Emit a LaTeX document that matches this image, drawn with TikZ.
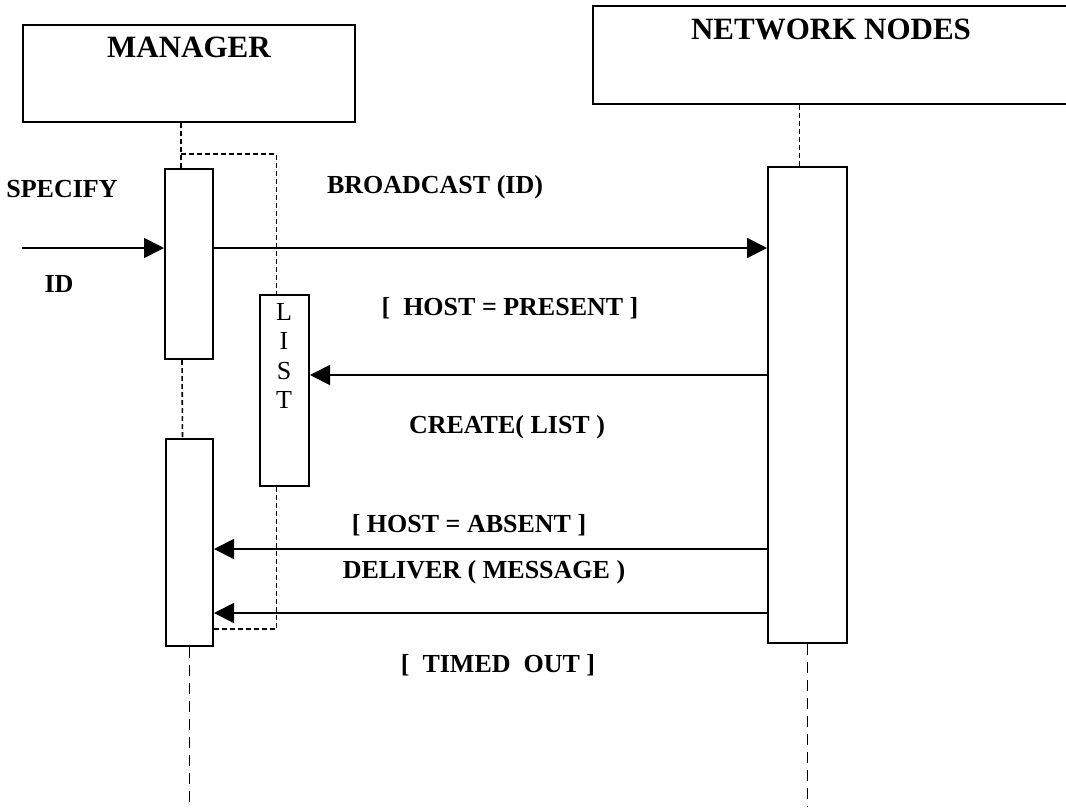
\documentclass[tikz,border=0pt]{standalone}
\usepackage{fontspec}
\setmainfont{Liberation Serif}
\usetikzlibrary{arrows.meta,positioning}

\begin{document}
\begin{tikzpicture}[x=1pt, y=-1pt,
  obj/.style={draw, line width=2pt, inner sep=0pt},
  act/.style={draw, line width=2pt, fill=white, inner sep=0pt},
  lbl/.style={font=\fontsize{26}{30}\selectfont\bfseries, anchor=base},
  ttl/.style={font=\fontsize{31}{36}\selectfont\bfseries, anchor=base},
  msg/.style={line width=1.8pt, -{Triangle[length=20pt,width=20pt]}},
  life/.style={line width=1.6pt, dash pattern=on 5pt off 3pt},
  lifelow/.style={line width=1.8pt, dash pattern=on 11pt off 7pt}]
  \useasboundingbox (0,0) rectangle (1066,807);

  % objects
  \node[obj, minimum width=332pt, minimum height=97pt] (mgr) at (189,73.5) {};
  \node[ttl] (mgrt) at (189,57) {MANAGER};
  \node[obj, minimum width=482pt, minimum height=98pt] (net) at (834,55) {};
  \node[ttl] (nett) at (831,39) {NETWORK NODES};

  % activation boxes
  \node[act, minimum width=48pt, minimum height=190pt] (act1) at (189,264) {};
  \node[act, minimum width=47pt, minimum height=207pt] (act2) at (189.5,542.5) {};
  \node[act, minimum width=79pt, minimum height=476pt] (netact) at (807.5,405) {};
  \node[act, minimum width=49pt, minimum height=191pt] (lst) at (284.5,390.5) {};
  \foreach \c [count=\i from 0] in {L,I,S,T}
    \node[font=\fontsize{26}{30}\selectfont, anchor=base] (lst\i) at (284,320+29.5*\i) {\c};

  % lifelines
  \draw[life] ([xshift=-8pt]mgr.south) -- ([xshift=-8pt]act1.north);
  \draw[life] ([xshift=-7pt]act1.south) -- ([xshift=-7pt]act2.north);
  \coordinate (mbot) at (190,807);
  \draw[lifelow] (act2.south) -- (act2.south |- mbot);
  \draw[life] ([xshift=-8pt]netact.north |- net.south) -- ([xshift=-8pt]netact.north);
  \draw[lifelow] (netact.south) -- (netact.south |- mbot);

  % list frame
  \draw[life] ([xshift=-8pt]mgr.south |- 0,154) -| ([xshift=-8pt]lst.north);
  \draw[life] ([xshift=-8pt]lst.south) |- (act2.east |- 0,629);

  % messages
  \coordinate (src) at (22,248);
  \draw[msg] (src) -- (src -| act1.west);
  \draw[msg] (src -| act1.east) -- (src -| netact.west);
  \draw[msg] (netact.west |- 0,375) -- (lst.east |- 0,375);
  \draw[msg] (netact.west |- 0,549) -- (act2.east |- 0,549);
  \draw[msg] (netact.west |- 0,613) -- (act2.east |- 0,613);

  % labels
  \node[lbl] (spec) at (62,197) {SPECIFY};
  \node[lbl] (id) at (59,292) {ID};
  \node[lbl] (bcast) at (435,193) {BROADCAST (ID)};
  \node[lbl] (present) at (510,315) {[\ \ HOST = PRESENT ]};
  \node[lbl] (create) at (507,433) {CREATE( LIST )};
  \node[lbl] (absent) at (469,532) {[ HOST = ABSENT ]};
  \node[lbl] (deliver) at (484,578) {DELIVER ( MESSAGE )};
  \node[lbl] (timed) at (498,672) {[\ \ TIMED\ \ OUT ]};
\end{tikzpicture}
\end{document}
